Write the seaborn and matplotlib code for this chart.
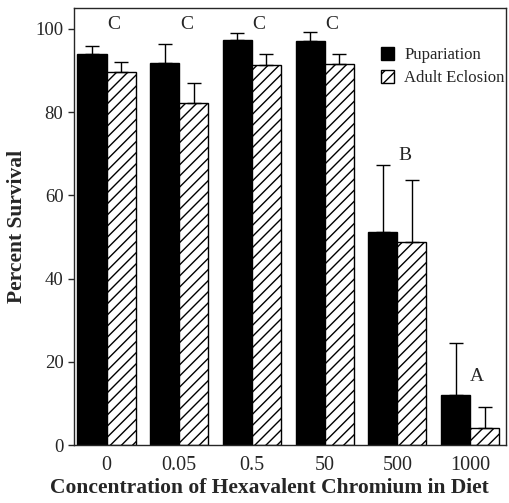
import numpy as np
import matplotlib
matplotlib.use("Agg")
import matplotlib.pyplot as plt
from matplotlib.patches import Patch
import pandas as pd
import seaborn as sns

CONCENTRATIONS = ["0", "0.05", "0.5", "50", "500", "1000"]
STAGES = ["Pupariation", "Adult Eclosion"]
PUPARIATION = [94.0, 91.8, 97.4, 97.0, 51.2, 12.0]
PUPARIATION_ERR = [2.0, 4.6, 1.5, 2.2, 16.1, 12.5]
ADULT = [89.7, 82.2, 91.3, 91.6, 48.8, 4.1]
ADULT_ERR = [2.3, 4.8, 2.7, 2.4, 14.9, 5.0]
LETTERS = ["C", "C", "C", "C", "B", "A"]
LETTER_Y = [101.0, 101.0, 101.0, 101.0, 69.5, 16.5]

df = pd.DataFrame({
    "conc": CONCENTRATIONS * 2,
    "stage": [STAGES[0]] * 6 + [STAGES[1]] * 6,
    "survival": PUPARIATION + ADULT,
    "err": PUPARIATION_ERR + ADULT_ERR,
})

sns.set_style("ticks")
plt.rcParams["font.family"] = ["Liberation Serif", "DejaVu Serif"]
plt.rcParams["hatch.linewidth"] = 1.0

fig = plt.figure(figsize=(5.09, 5.03), dpi=100)
ax = fig.add_axes([0.145, 0.115, 0.85, 0.869])

colors = {"Pupariation": "black", "Adult Eclosion": "white"}
sns.barplot(data=df, x="conc", y="survival", hue="stage", order=CONCENTRATIONS,
            hue_order=STAGES, palette=colors, errorbar=None, width=0.8,
            edgecolor="black", linewidth=1.0, ax=ax, legend=False)

# hatch the adult bars and add upper-only error bars
for cont, stage in zip(ax.containers, STAGES):
    errs = df[df["stage"] == stage]["err"].values
    xs, ys = [], []
    for bar in cont:
        xs.append(bar.get_x() + bar.get_width() / 2)
        ys.append(bar.get_height())
        if stage == "Adult Eclosion":
            bar.set_hatch("///")
    ax.errorbar(xs, ys, yerr=[np.zeros(len(errs)), errs], fmt="none",
                ecolor="black", elinewidth=1.0, capsize=5, capthick=1.0)

for i, (lab, ly) in enumerate(zip(LETTERS, LETTER_Y)):
    ax.text(i + 0.1, ly, lab, ha="center", va="center", fontsize=14)

ax.set_ylim(0, 105)
ax.set_xlim(-0.45, 5.5)
ax.set_yticks([0, 20, 40, 60, 80, 100])
ax.tick_params(axis="y", labelsize=13.5, length=4, width=1, direction="out")
ax.tick_params(axis="x", labelsize=14.5, length=0, pad=8)
for s in ax.spines.values():
    s.set_linewidth(1.0)
    s.set_visible(True)

ax.set_xlabel("Concentration of Hexavalent Chromium in Diet", fontsize=15.5,
              fontweight="bold")
ax.xaxis.set_label_coords(0.452, -0.075)
ax.set_ylabel("Percent Survival", fontsize=15.5, fontweight="bold", labelpad=6)

handles = [Patch(facecolor="black", edgecolor="black"),
           Patch(facecolor="white", edgecolor="black", hatch="///")]
ax.legend(handles, STAGES, loc="upper right", bbox_to_anchor=(1.03, 0.945),
          frameon=False, fontsize=12, handlelength=0.8, handleheight=0.8,
          handletextpad=0.6, labelspacing=0.4)

fig.savefig("out.png", dpi=100)
